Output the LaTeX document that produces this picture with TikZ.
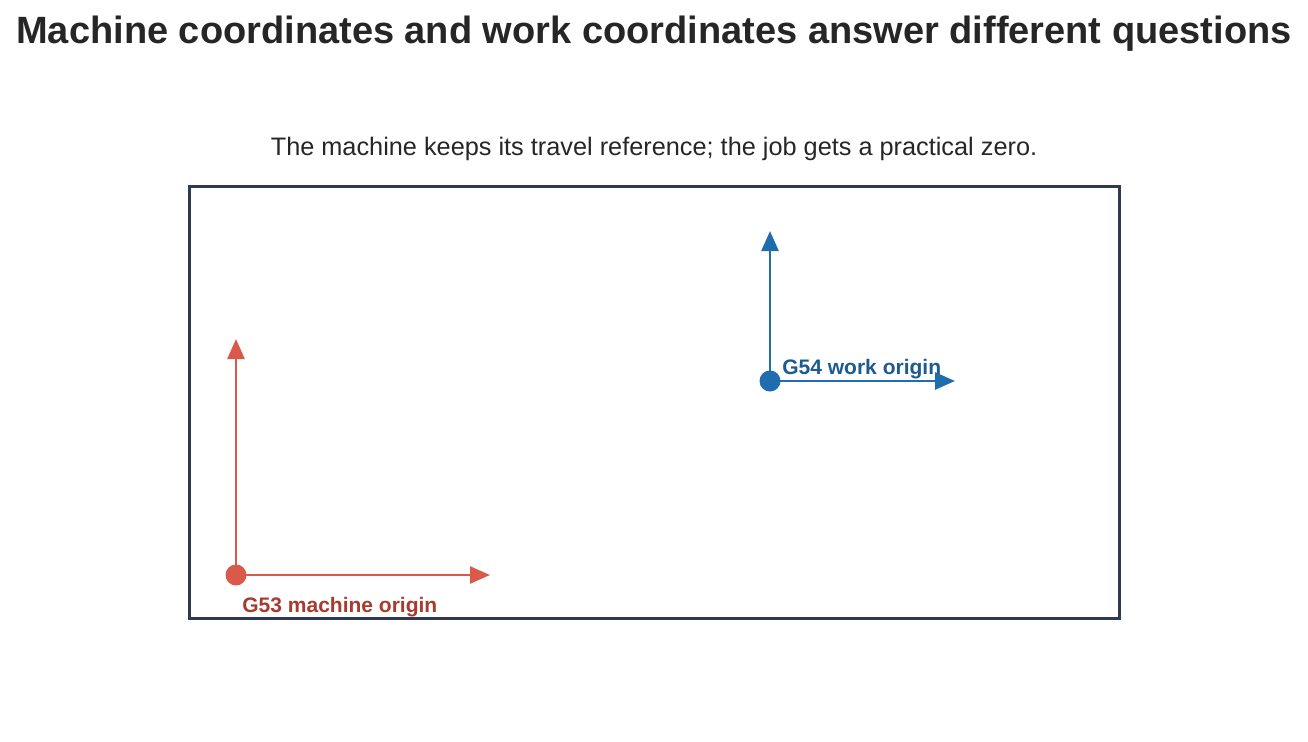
\documentclass[tikz,border=0pt]{standalone}
\usepackage{fontspec}
\setmainfont{Liberation Sans}
\usetikzlibrary{arrows.meta}
\definecolor{frame}{HTML}{2F3A4F}
\definecolor{mred}{HTML}{D95A48}
\definecolor{mredtext}{HTML}{A83A2E}
\definecolor{wblue}{HTML}{1F6DAE}
\definecolor{wbluetext}{HTML}{1D5A90}
\tikzstyle{every picture}=[x=0.5pt, y=-0.5pt, >={Triangle[length=10pt,width=8.5pt]}]
\tikzstyle{axis}=[line width=1.25pt, ->]
\tikzstyle{origin}=[circle, inner sep=0pt, minimum size=10.5pt]
\tikzstyle{lbl}=[font=\fontsize{10.5}{12}\selectfont\bfseries, inner sep=0pt]

\begin{document}
\begin{tikzpicture}
	\useasboundingbox (0,0) rectangle (1308,741);
	\node[font=\fontsize{19}{21}\selectfont\bfseries, text=black!85] (title) at (654,34)
		{Machine coordinates and work coordinates answer different questions};
	\node[font=\fontsize{12.65}{15}\selectfont, text=black!85] (sub) at (654,149)
		{The machine keeps its travel reference; the job gets a practical zero.};
	\draw[frame, line width=1.5pt] (189,186) rectangle (1119,618);
	% G53 machine origin
	\node[origin, fill=mred] (m0) at (236,575) {};
	\coordinate (my) at (236,339);
	\coordinate (mx) at (490,575);
	\draw[axis, mred] (m0.center) -- (my);
	\draw[axis, mred] (m0.center) -- (mx);
	\node[lbl, text=mredtext, anchor=west] (mlbl) at (242,607) {G53 machine origin};
	% G54 work origin
	\node[origin, fill=wblue] (w0) at (770,381) {};
	\coordinate (wy) at (770,231);
	\coordinate (wx) at (955,381);
	\draw[axis, wblue] (w0.center) -- (wy);
	\draw[axis, wblue] (w0.center) -- (wx);
	\node[lbl, text=wbluetext, anchor=west] (wlbl) at (782,369) {G54 work origin};
\end{tikzpicture}
\end{document}
